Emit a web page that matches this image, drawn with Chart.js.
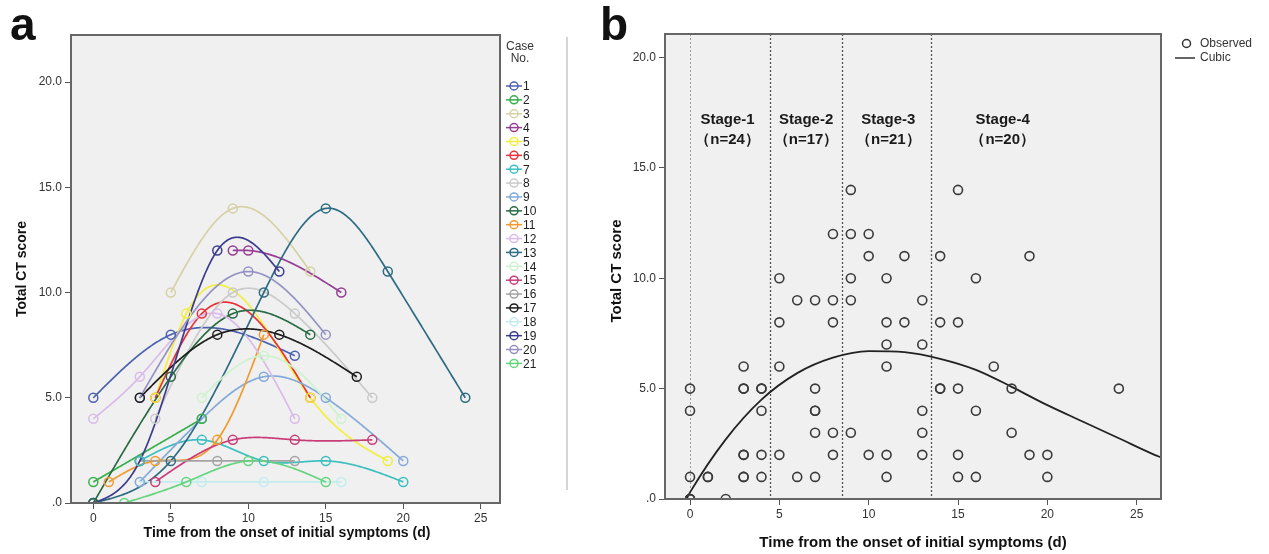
<!DOCTYPE html>
<html>
<head>
<meta charset="utf-8">
<script src="https://cdn.jsdelivr.net/npm/chart.js@4.4.0/dist/chart.umd.min.js"></script>
<style>
  body { margin: 0; background: #fff; }
  #wrapA { position: absolute; left: 0; top: 0; width: 600px; height: 554px; }
  #wrapB { position: absolute; left: 600px; top: 0; width: 669px; height: 554px; }
</style>
</head>
<body>
<div id="wrapA"><canvas id="chartA" width="600" height="554"></canvas></div>
<div id="wrapB"><canvas id="chartB" width="669" height="554"></canvas></div>
<script>
// --- panel a : CT score of each case by day ---
const caseNames = ['1','2','3','4','5','6','7','8','9','10','11','12','13','14','15','16','17','18','19','20','21'];
const caseDays = [
  [0, 5, 13],
  [0, 7],
  [5, 9, 14],
  [9, 10, 16],
  [4, 6, 14, 19],
  [4, 7, 14],
  [3, 7, 11, 15, 20],
  [4, 9, 13, 18],
  [3, 7, 11, 15, 20],
  [0, 5, 9, 14],
  [1, 4, 8, 11],
  [0, 3, 8, 13],
  [0, 5, 11, 15, 19, 24],
  [7, 11, 16],
  [4, 9, 13, 18],
  [3, 8, 13],
  [3, 8, 12, 17],
  [3, 7, 11, 16],
  [0, 3, 8, 12],
  [3, 10, 15],
  [2, 6, 10, 15]
];
const caseScores = [
  [5, 8, 7],
  [1, 4],
  [10, 14, 11],
  [12, 12, 10],
  [5, 9, 5, 2],
  [5, 9, 5],
  [2, 3, 2, 2, 1],
  [4, 10, 9, 5],
  [1, 4, 6, 5, 2],
  [0, 6, 9, 8],
  [1, 2, 3, 8],
  [4, 6, 9, 4],
  [0, 2, 10, 14, 11, 5],
  [5, 7, 4],
  [1, 3, 3, 3],
  [2, 2, 2],
  [5, 8, 8, 6],
  [1, 1, 1, 1],
  [0, 2, 12, 11],
  [5, 11, 8],
  [0, 1, 2, 1]
];
const caseColors = ['#4b62b0','#36b04a','#d6d1a6','#953f95','#f3ee3c','#e8323a','#3ebfbf','#cacaca','#84aad8','#2a6b45','#f39a2e',
  '#d9bbea','#2d6b82','#cdf2cd','#c83c78','#a3a3a3','#1e1e1e','#c3ecf0','#3c3c8c','#9393c3','#66d47e'];

// --- panel b : all observations + cubic fit ---
const obsDays = [0,0,0,0,0,0, 1,1, 2, 3,3,3,3,3,3,3, 4,4,4,4,4, 5,5,5,5, 6,6, 7,7,7,7,7,7, 8,8,8,8,8,
  9,9,9,9,9, 10,10,10, 11,11,11,11,11,11, 12,12, 13,13,13,13,13, 14,14,14,14, 15,15,15,15,15, 16,16,16, 17, 18,18, 19,19, 20,20, 24];
const obsScores = [5,4,1,0,0,0, 1,1, 0, 6,5,5,2,2,1,1, 5,5,4,2,1, 10,8,6,2, 9,1, 9,5,4,4,3,1, 12,9,8,3,2,
  14,12,10,9,3, 12,11,2, 10,8,7,6,2,1, 11,8, 9,7,4,3,2, 11,8,5,5, 14,8,5,2,1, 10,4,1, 6, 5,3, 11,2, 2,1, 5];
const cubicDays = [-0.2, 0, 2, 4, 6, 8, 10, 12, 14, 16, 18, 20, 22, 24, 26, 26.4];
const cubicScores = [0, 0.3, 2.7, 4.5, 5.7, 6.4, 6.7, 6.65, 6.35, 5.85, 5.08, 4.25, 3.5, 2.75, 2.0, 1.87];

const stageBounds = [0, 4.5, 8.5, 13.5];
const stageTitles = ['Stage-1', 'Stage-2', 'Stage-3', 'Stage-4'];
const stageCounts = ['（n=24）', '（n=17）', '（n=21）', '（n=20）'];
const stageLabelDay = [2.1, 6.5, 11.1, 17.5];

const xTicks = [0, 5, 10, 15, 20, 25];
const yTicks = [0, 5, 10, 15, 20];
const yTickLabels = ['.0', '5.0', '10.0', '15.0', '20.0'];

const FONT = 'Arial, "Liberation Sans", sans-serif';
const xTitle = 'Time from the onset of initial symptoms (d)';
const yTitle = 'Total CT score';

/**
 * Natural cubic spline through the points (used for the case lines)
 */
function naturalSpline(xs, ys) {
  const n = xs.length;
  const m = new Array(n).fill(0);
  if (n > 2) {
    const a = [], b = [], c = [], d = [];
    for (let i = 1; i < n - 1; i++) {
      const h0 = xs[i] - xs[i - 1], h1 = xs[i + 1] - xs[i];
      a.push(h0); b.push(2 * (h0 + h1)); c.push(h1);
      d.push(6 * ((ys[i + 1] - ys[i]) / h1 - (ys[i] - ys[i - 1]) / h0));
    }
    const k = b.length;
    for (let i = 1; i < k; i++) {
      const w = a[i] / b[i - 1];
      b[i] -= w * c[i - 1];
      d[i] -= w * d[i - 1];
    }
    m[k] = d[k - 1] / b[k - 1];
    for (let i = k - 2; i >= 0; i--) m[i + 1] = (d[i] - c[i] * m[i + 2]) / b[i];
  }
  return function (x) {
    let i = 0;
    while (i < n - 2 && x > xs[i + 1]) i++;
    const h = xs[i + 1] - xs[i];
    const t1 = xs[i + 1] - x, t0 = x - xs[i];
    return m[i] * t1 * t1 * t1 / (6 * h) + m[i + 1] * t0 * t0 * t0 / (6 * h)
      + (ys[i] / h - m[i] * h / 6) * t1 + (ys[i + 1] / h - m[i + 1] * h / 6) * t0;
  };
}

const areaBackground = {
  id: 'areaBackground',
  beforeDraw(chart) {
    const { ctx, chartArea: a } = chart;
    ctx.save();
    ctx.fillStyle = '#f0f0f0';
    ctx.fillRect(a.left, a.top, a.right - a.left, a.bottom - a.top);
    ctx.restore();
  }
};

const frame = {
  id: 'frame',
  afterDraw(chart) {
    const { ctx, chartArea: a } = chart;
    ctx.save();
    ctx.strokeStyle = '#666';
    ctx.lineWidth = 2;
    ctx.strokeRect(a.left, a.top, a.right - a.left, a.bottom - a.top);
    ctx.restore();
  }
};

function drawYTitle(ctx, x, y, size) {
  ctx.save();
  ctx.translate(x, y);
  ctx.rotate(-Math.PI / 2);
  ctx.font = 'bold ' + size + 'px ' + FONT;
  ctx.fillStyle = '#111';
  ctx.textAlign = 'center';
  ctx.textBaseline = 'middle';
  ctx.fillText(yTitle, 0, 0);
  ctx.restore();
}

// lines of panel a
const caseLines = {
  id: 'caseLines',
  beforeDatasetsDraw(chart) {
    const { ctx, chartArea: a, scales } = chart;
    ctx.save();
    ctx.beginPath();
    ctx.rect(a.left, a.top, a.right - a.left, a.bottom - a.top);
    ctx.clip();
    caseDays.forEach((days, i) => {
      const f = naturalSpline(days, caseScores[i]);
      const x0 = days[0], x1 = days[days.length - 1];
      ctx.beginPath();
      for (let x = x0; x <= x1 + 1e-9; x += 0.05) {
        const px = scales.x.getPixelForValue(x), py = scales.y.getPixelForValue(f(x));
        if (x === x0) ctx.moveTo(px, py); else ctx.lineTo(px, py);
      }
      ctx.strokeStyle = caseColors[i];
      ctx.lineWidth = 1.7;
      ctx.stroke();
    });
    ctx.restore();
  }
};

const decorA = {
  id: 'decorA',
  afterDraw(chart) {
    const { ctx, chartArea: a } = chart;
    ctx.save();
    ctx.fillStyle = '#111';
    ctx.font = 'bold 46px ' + FONT;
    ctx.textBaseline = 'alphabetic';
    ctx.fillText('a', 10, 40);

    ctx.font = 'bold 14px ' + FONT;
    ctx.textAlign = 'center';
    ctx.textBaseline = 'middle';
    ctx.fillText(xTitle, 287, 533);
    drawYTitle(ctx, 22, 269, 14);

    // legend
    ctx.font = '12px ' + FONT;
    ctx.fillStyle = '#333';
    ctx.fillText('Case', 520, 47);
    ctx.fillText('No.', 520, 59);
    caseNames.forEach((name, i) => {
      const y = 86 + i * 13.87;
      ctx.strokeStyle = caseColors[i];
      ctx.lineWidth = 1.5;
      ctx.beginPath();
      ctx.moveTo(506, y); ctx.lineTo(522, y);
      ctx.stroke();
      ctx.beginPath();
      ctx.arc(514, y, 4, 0, Math.PI * 2);
      ctx.stroke();
      ctx.textAlign = 'left';
      ctx.fillStyle = '#222';
      ctx.fillText(name, 523, y + 1);
    });

    ctx.strokeStyle = '#aaa';
    ctx.lineWidth = 1;
    ctx.beginPath();
    ctx.moveTo(567, 37); ctx.lineTo(567, 490);
    ctx.stroke();
    ctx.restore();
  }
};

const stageLines = {
  id: 'stageLines',
  beforeDatasetsDraw(chart) {
    const { ctx, chartArea: a, scales } = chart;
    ctx.save();
    stageBounds.forEach((d, i) => {
      const px = Math.round(scales.x.getPixelForValue(d)) + 0.5;
      ctx.strokeStyle = i === 0 ? '#9a9a9a' : '#555';
      ctx.lineWidth = i === 0 ? 1 : 1.3;
      ctx.setLineDash([2, 2]);
      ctx.beginPath();
      ctx.moveTo(px, a.top); ctx.lineTo(px, a.bottom);
      ctx.stroke();
    });
    ctx.setLineDash([]);
    ctx.fillStyle = '#1a1a1a';
    ctx.font = 'bold 15px ' + FONT;
    ctx.textAlign = 'center';
    ctx.textBaseline = 'middle';
    stageTitles.forEach((t, i) => {
      const px = scales.x.getPixelForValue(stageLabelDay[i]);
      ctx.fillText(t, px, 120);
      ctx.fillText(stageCounts[i], px, 140);
    });
    ctx.restore();
  }
};

const decorB = {
  id: 'decorB',
  afterDraw(chart) {
    const { ctx } = chart;
    ctx.save();
    ctx.fillStyle = '#111';
    ctx.font = 'bold 46px ' + FONT;
    ctx.fillText('b', 0, 40);

    ctx.font = 'bold 15px ' + FONT;
    ctx.textAlign = 'center';
    ctx.textBaseline = 'middle';
    ctx.fillText(xTitle, 313, 543);
    drawYTitle(ctx, 17, 271, 15);

    // legend
    ctx.font = '12px ' + FONT;
    ctx.fillStyle = '#333';
    ctx.textAlign = 'left';
    ctx.strokeStyle = '#333';
    ctx.lineWidth = 1.5;
    ctx.beginPath();
    ctx.arc(586.5, 43.5, 4, 0, Math.PI * 2);
    ctx.stroke();
    ctx.fillText('Observed', 600, 44);
    ctx.beginPath();
    ctx.moveTo(575, 58); ctx.lineTo(595, 58);
    ctx.stroke();
    ctx.fillText('Cubic', 600, 58);
    ctx.restore();
  }
};

function axis(min, max, ticks, labels, fit, tickPad) {
  return {
    type: 'linear',
    min: min,
    max: max,
    afterBuildTicks: s => { s.ticks = ticks.map(v => ({ value: v })); },
    afterFit: fit,
    grid: { drawOnChartArea: false, drawTicks: true, tickLength: 6, color: '#555', lineWidth: 1 },
    border: { display: false },
    ticks: {
      font: { family: FONT, size: 12 },
      color: '#333',
      padding: tickPad,
      maxRotation: 0,
      autoSkip: false,
      callback: labels ? (v => labels[ticks.indexOf(v)]) : (v => String(v))
    }
  };
}

new Chart(document.getElementById('chartA'), {
  type: 'scatter',
  data: {
    datasets: caseDays.map((days, i) => ({
      label: caseNames[i],
      data: days.map((d, j) => ({ x: d, y: caseScores[i][j] })),
      showLine: false,
      pointRadius: 4.5,
      pointBorderWidth: 1.5,
      borderColor: caseColors[i],
      backgroundColor: 'rgba(0,0,0,0)'
    }))
  },
  options: {
    responsive: false,
    animation: false,
    devicePixelRatio: 1,
    layout: { padding: { left: 0, right: 100, top: 35, bottom: 0 } },
    plugins: { legend: { display: false }, tooltip: { enabled: false } },
    scales: {
      x: axis(-1.44, 26.24, xTicks, null, s => { s.height = 51; }, 2),
      y: axis(0, 22.24, yTicks, yTickLabels, s => { s.width = 71; }, 3)
    }
  },
  plugins: [areaBackground, caseLines, frame, decorA]
});

new Chart(document.getElementById('chartB'), {
  type: 'scatter',
  data: {
    datasets: [
      {
        label: 'Observed',
        data: obsDays.map((d, i) => ({ x: d, y: obsScores[i] })),
        pointRadius: 4.5,
        pointBorderWidth: 1.6,
        borderColor: '#3a3a3a',
        backgroundColor: 'rgba(0,0,0,0)'
      },
      {
        type: 'line',
        label: 'Cubic',
        data: cubicDays.map((d, i) => ({ x: d, y: cubicScores[i] })),
        pointRadius: 0,
        borderColor: '#222',
        borderWidth: 1.8,
        cubicInterpolationMode: 'monotone',
        fill: false
      }
    ]
  },
  options: {
    responsive: false,
    animation: false,
    devicePixelRatio: 1,
    layout: { padding: { left: 0, right: 108, top: 34, bottom: 0 } },
    plugins: { legend: { display: false }, tooltip: { enabled: false } },
    scales: {
      x: axis(-1.4, 26.36, xTicks, null, s => { s.height = 55; }, 2),
      y: axis(0, 21.06, yTicks, yTickLabels, s => { s.width = 65; }, 3)
    }
  },
  plugins: [areaBackground, stageLines, frame, decorB]
});
</script>
</body>
</html>
